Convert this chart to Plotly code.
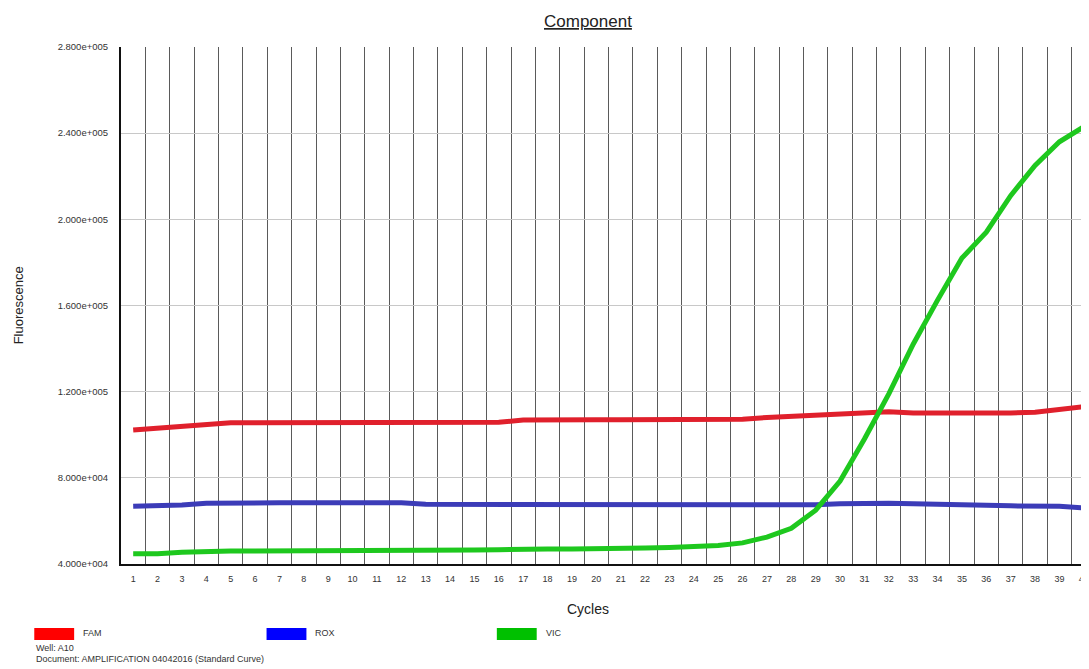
import plotly.graph_objects as go

cycles = list(range(1, 41))

fam = [1.022e5, 1.030e5, 1.040e5, 1.050e5, 1.056e5, 1.056e5, 1.056e5, 1.056e5, 1.056e5, 1.056e5,
       1.056e5, 1.056e5, 1.056e5, 1.056e5, 1.056e5, 1.058e5, 1.068e5, 1.070e5, 1.070e5, 1.070e5,
       1.070e5, 1.070e5, 1.071e5, 1.071e5, 1.071e5, 1.072e5, 1.080e5, 1.086e5, 1.092e5, 1.100e5,
       1.103e5, 1.107e5, 1.101e5, 1.100e5, 1.100e5, 1.100e5, 1.101e5, 1.105e5, 1.117e5, 1.130e5]

rox = [6.68e4, 6.70e4, 6.74e4, 6.82e4, 6.84e4, 6.84e4, 6.84e4, 6.84e4, 6.84e4, 6.84e4,
       6.84e4, 6.84e4, 6.77e4, 6.77e4, 6.77e4, 6.77e4, 6.77e4, 6.77e4, 6.77e4, 6.77e4,
       6.77e4, 6.77e4, 6.77e4, 6.76e4, 6.75e4, 6.74e4, 6.74e4, 6.74e4, 6.75e4, 6.80e4,
       6.82e4, 6.82e4, 6.80e4, 6.76e4, 6.75e4, 6.73e4, 6.70e4, 6.70e4, 6.68e4, 6.60e4]

vic = [4.48e4, 4.48e4, 4.54e4, 4.58e4, 4.60e4, 4.60e4, 4.60e4, 4.60e4, 4.60e4, 4.62e4,
       4.62e4, 4.62e4, 4.62e4, 4.63e4, 4.65e4, 4.66e4, 4.70e4, 4.70e4, 4.70e4, 4.70e4,
       4.71e4, 4.74e4, 4.77e4, 4.80e4, 4.86e4, 4.98e4, 5.25e4, 5.66e4, 6.50e4, 7.85e4,
       9.80e4, 1.190e5, 1.420e5, 1.625e5, 1.820e5, 1.940e5, 2.110e5, 2.250e5, 2.360e5, 2.430e5]

series_names = ["FAM", "ROX", "VIC"]
series_values = [fam, rox, vic]
line_colors = ["#e0202c", "#3c3cb8", "#1ec81e"]
swatch_colors = ["#ff0000", "#0000ff", "#00c000"]

y_ticks = [4.0e4, 8.0e4, 1.2e5, 1.6e5, 2.0e5, 2.4e5, 2.8e5]
y_tick_labels = ["4.000e+004", "8.000e+004", "1.200e+005", "1.600e+005",
                 "2.000e+005", "2.400e+005", "2.800e+005"]

# page offset (browser body margin)
OFF = 8
W, H = 1089 - OFF, 669 - OFF
# plot area in window pixels: left 121, top 47, bottom 564, right edge of window
ML, MR, MT, MB = 121 - OFF, 0, 47 - OFF, 669 - 564
PW = W - ML - MR
PH = H - MT - MB


def px(x):
    return (x - OFF - ML) / PW


def py(y):
    return (H - MB - (y - OFF)) / PH


fig = go.Figure()
for name, vals, col in zip(series_names, series_values, line_colors):
    fig.add_trace(go.Scatter(x=cycles, y=vals, mode="lines", name=name,
                             line=dict(color=col, width=5), showlegend=False))

font = "Liberation Sans, Arial, sans-serif"
half_grid = [c - 0.5 for c in cycles[1:]]

fig.update_layout(
    width=W, height=H,
    margin=dict(l=ML, r=MR, t=MT, b=MB, pad=0),
    paper_bgcolor="white", plot_bgcolor="white",
    font=dict(family=font, color="#333333"),
    xaxis=dict(range=[0.5, 40.09], tickmode="array", tickvals=cycles,
               ticktext=[str(c) for c in cycles], showgrid=False, zeroline=False,
               ticks="", tickfont=dict(size=9, color="#333333"), ticklabelstandoff=5,
               ticklabeloverflow="allow",
               showline=True, linecolor="#111111", linewidth=2,
               minor=dict(tickmode="array", tickvals=half_grid, showgrid=True,
                          gridcolor="#5a5a5a", gridwidth=1, ticks="")),
    yaxis=dict(range=[4.0e4, 2.8e5], tickmode="array", tickvals=y_ticks,
               ticktext=y_tick_labels, showgrid=True, gridcolor="#c8c8c8",
               gridwidth=1, zeroline=False, ticks="", ticklabelstandoff=9,
               tickfont=dict(size=9.5, color="#333333"),
               showline=True, linecolor="#111111", linewidth=2),
)

annotations = [
    dict(text="<u>Component</u>", x=px(589), y=py(22), xref="paper", yref="paper",
         showarrow=False, font=dict(size=17, color="#222222", family=font),
         xanchor="center", yanchor="middle"),
    dict(text="Fluorescence", x=px(18), y=py(305), xref="paper", yref="paper",
         showarrow=False, textangle=-90, font=dict(size=13, color="#222222", family=font),
         xanchor="center", yanchor="middle"),
    dict(text="Cycles", x=px(589), y=py(609), xref="paper", yref="paper",
         showarrow=False, font=dict(size=14, color="#222222", family=font),
         xanchor="center", yanchor="middle"),
    dict(text="Well: A10", x=px(34), y=py(648), xref="paper", yref="paper",
         showarrow=False, font=dict(size=9, color="#333333", family=font),
         xanchor="left", yanchor="middle"),
    dict(text="Document: AMPLIFICATION 04042016 (Standard Curve)", x=px(34), y=py(659),
         xref="paper", yref="paper", showarrow=False,
         font=dict(size=9, color="#333333", family=font),
         xanchor="left", yanchor="middle"),
]

shapes = []
legend_x = [34, 267, 498]
for lx, name, col in zip(legend_x, series_names, swatch_colors):
    shapes.append(dict(type="rect", xref="paper", yref="paper",
                       x0=px(lx), x1=px(lx + 40), y0=py(640), y1=py(628),
                       fillcolor=col, line=dict(width=0)))
    annotations.append(dict(text=name, x=px(lx + 47), y=py(633), xref="paper", yref="paper",
                            showarrow=False, font=dict(size=9, color="#333333", family=font),
                            xanchor="left", yanchor="middle"))

fig.update_layout(annotations=annotations, shapes=shapes)
fig.write_html("out.html")
